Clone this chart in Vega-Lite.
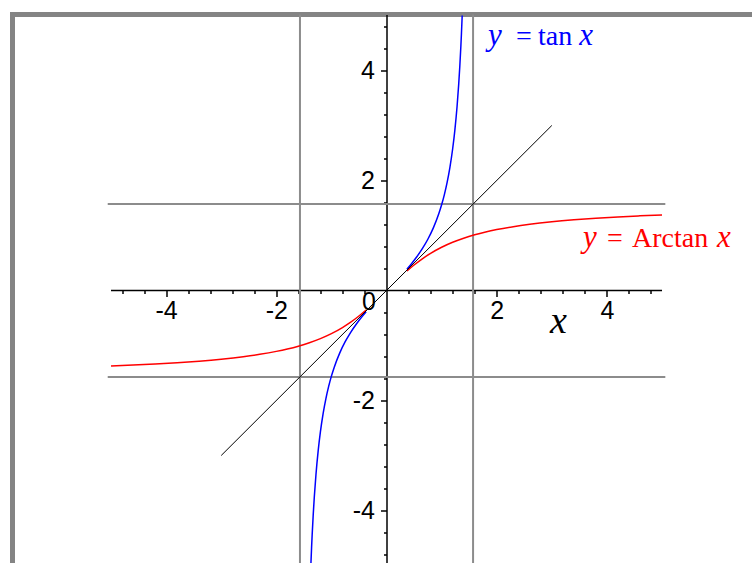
{
  "$schema": "https://vega.github.io/schema/vega-lite/v6.json",
  "width": 745,
  "height": 555,
  "autosize": {"type": "none"},
  "padding": {"left": 12.5, "top": 14.5, "right": -5.5, "bottom": -6.5},
  "background": "white",
  "config": {
    "view": {"stroke": "#848484", "strokeWidth": 5, "fill": "white"},
    "axis": {"labelOverlap": false, "grid": false, "title": null}
  },
  "resolve": {"axis": {"x": "independent", "y": "independent"}},
  "datasets": {
    "asymV": [{"x": -1.5708}, {"x": 1.5708}],
    "asymH": [
      {"x": -5.06, "x2": 5.06, "y": 1.5708},
      {"x": -5.06, "x2": 5.06, "y": -1.5708}
    ],
    "xAxisLine": [{"x": -5.0, "x2": 5.0, "y": 0}],
    "arctan": [
      {"branch": "neg", "x": -5.0, "y": -1.3734},
      {"branch": "neg", "x": -4.6, "y": -1.3567},
      {"branch": "neg", "x": -4.2, "y": -1.3371},
      {"branch": "neg", "x": -3.8, "y": -1.3135},
      {"branch": "neg", "x": -3.4, "y": -1.2847},
      {"branch": "neg", "x": -3.0, "y": -1.2490},
      {"branch": "neg", "x": -2.6, "y": -1.2036},
      {"branch": "neg", "x": -2.3, "y": -1.1607},
      {"branch": "neg", "x": -2.0, "y": -1.1071},
      {"branch": "neg", "x": -1.8, "y": -1.0637},
      {"branch": "neg", "x": -1.6, "y": -1.0122},
      {"branch": "neg", "x": -1.4, "y": -0.9505},
      {"branch": "neg", "x": -1.2, "y": -0.8761},
      {"branch": "neg", "x": -1.0, "y": -0.7854},
      {"branch": "neg", "x": -0.8, "y": -0.6747},
      {"branch": "neg", "x": -0.65, "y": -0.5764},
      {"branch": "neg", "x": -0.5, "y": -0.4636},
      {"branch": "neg", "x": -0.37, "y": -0.3546},
      {"branch": "pos", "x": 0.37, "y": 0.3546},
      {"branch": "pos", "x": 0.5, "y": 0.4636},
      {"branch": "pos", "x": 0.65, "y": 0.5764},
      {"branch": "pos", "x": 0.8, "y": 0.6747},
      {"branch": "pos", "x": 1.0, "y": 0.7854},
      {"branch": "pos", "x": 1.2, "y": 0.8761},
      {"branch": "pos", "x": 1.4, "y": 0.9505},
      {"branch": "pos", "x": 1.6, "y": 1.0122},
      {"branch": "pos", "x": 1.8, "y": 1.0637},
      {"branch": "pos", "x": 2.0, "y": 1.1071},
      {"branch": "pos", "x": 2.3, "y": 1.1607},
      {"branch": "pos", "x": 2.6, "y": 1.2036},
      {"branch": "pos", "x": 3.0, "y": 1.2490},
      {"branch": "pos", "x": 3.4, "y": 1.2847},
      {"branch": "pos", "x": 3.8, "y": 1.3135},
      {"branch": "pos", "x": 4.2, "y": 1.3371},
      {"branch": "pos", "x": 4.6, "y": 1.3567},
      {"branch": "pos", "x": 5.0, "y": 1.3734}
    ],
    "tan": [
      {"branch": "neg", "x": -1.3734, "y": -5.0},
      {"branch": "neg", "x": -1.36, "y": -4.6734},
      {"branch": "neg", "x": -1.35, "y": -4.4552},
      {"branch": "neg", "x": -1.33, "y": -4.0723},
      {"branch": "neg", "x": -1.31, "y": -3.7471},
      {"branch": "neg", "x": -1.28, "y": -3.3414},
      {"branch": "neg", "x": -1.24, "y": -2.9119},
      {"branch": "neg", "x": -1.2, "y": -2.5722},
      {"branch": "neg", "x": -1.15, "y": -2.2345},
      {"branch": "neg", "x": -1.1, "y": -1.9648},
      {"branch": "neg", "x": -1.05, "y": -1.7433},
      {"branch": "neg", "x": -1.0, "y": -1.5574},
      {"branch": "neg", "x": -0.95, "y": -1.3984},
      {"branch": "neg", "x": -0.85, "y": -1.1383},
      {"branch": "neg", "x": -0.75, "y": -0.9316},
      {"branch": "neg", "x": -0.65, "y": -0.7602},
      {"branch": "neg", "x": -0.55, "y": -0.6131},
      {"branch": "neg", "x": -0.45, "y": -0.4831},
      {"branch": "neg", "x": -0.37, "y": -0.3879},
      {"branch": "pos", "x": 0.37, "y": 0.3879},
      {"branch": "pos", "x": 0.45, "y": 0.4831},
      {"branch": "pos", "x": 0.55, "y": 0.6131},
      {"branch": "pos", "x": 0.65, "y": 0.7602},
      {"branch": "pos", "x": 0.75, "y": 0.9316},
      {"branch": "pos", "x": 0.85, "y": 1.1383},
      {"branch": "pos", "x": 0.95, "y": 1.3984},
      {"branch": "pos", "x": 1.0, "y": 1.5574},
      {"branch": "pos", "x": 1.05, "y": 1.7433},
      {"branch": "pos", "x": 1.1, "y": 1.9648},
      {"branch": "pos", "x": 1.15, "y": 2.2345},
      {"branch": "pos", "x": 1.2, "y": 2.5722},
      {"branch": "pos", "x": 1.24, "y": 2.9119},
      {"branch": "pos", "x": 1.28, "y": 3.3414},
      {"branch": "pos", "x": 1.31, "y": 3.7471},
      {"branch": "pos", "x": 1.33, "y": 4.0723},
      {"branch": "pos", "x": 1.35, "y": 4.4552},
      {"branch": "pos", "x": 1.36, "y": 4.6734},
      {"branch": "pos", "x": 1.3734, "y": 5.0}
    ],
    "diag": [{"x": -3, "y": -3}, {"x": 3, "y": 3}],
    "italicText": [
      {"grp": "tan", "t": "y", "x": 1.842, "y": 4.464},
      {"grp": "tan", "t": "x", "x": 3.5, "y": 4.464},
      {"grp": "arctan", "t": "y", "x": 3.566, "y": 0.791},
      {"grp": "arctan", "t": "x", "x": 5.998, "y": 0.791}
    ],
    "uprightText": [
      {"grp": "tan", "t": "=", "x": 2.35, "y": 4.464},
      {"grp": "tan", "t": "tan", "x": 2.75, "y": 4.464},
      {"grp": "arctan", "t": "=", "x": 4.0, "y": 0.791},
      {"grp": "arctan", "t": "Arctan", "x": 4.456, "y": 0.791}
    ],
    "axisTitle": [{"t": "x", "x": 2.967, "y": -0.78}],
    "origin": [{"t": "0", "x": -0.445, "y": -0.355}]
  },
  "layer": [
    {
      "data": {"name": "asymH"},
      "mark": {"type": "rule", "color": "#8c8c8c", "strokeWidth": 2},
      "encoding": {
        "x": {
          "field": "x", "type": "quantitative",
          "scale": {"domain": [-6.788, 6.733], "nice": false, "zero": false},
          "axis": {
            "orient": "bottom", "offset": -279, "domain": false,
            "values": [-4.8, -4.4, -3.6, -3.2, -2.8, -2.4, -1.6, -1.2, -0.8, -0.4, 0.4, 0.8, 1.2, 1.6, 2.4, 2.8, 3.2, 3.6, 4.4, 4.8],
            "ticks": true, "tickColor": "black", "tickWidth": 1.5, "tickSize": 3,
            "labels": false
          }
        },
        "x2": {"field": "x2"},
        "y": {
          "field": "y", "type": "quantitative",
          "scale": {"domain": [-5.073, 5.018], "nice": false, "zero": false},
          "axis": {
            "orient": "left", "offset": -374, "domain": true, "domainColor": "black", "domainWidth": 1.5,
            "values": [-4.8, -4.4, -3.6, -3.2, -2.8, -2.4, -1.6, -1.2, -0.8, -0.4, 0.4, 0.8, 1.2, 1.6, 2.4, 2.8, 3.2, 3.6, 4.4, 4.8],
            "ticks": true, "tickColor": "black", "tickWidth": 1.5, "tickSize": 3,
            "labels": false
          }
        }
      }
    },
    {
      "data": {"name": "xAxisLine"},
      "mark": {"type": "rule", "color": "black", "strokeWidth": 1.5},
      "encoding": {
        "x": {
          "field": "x", "type": "quantitative",
          "scale": {"domain": [-6.788, 6.733], "nice": false, "zero": false},
          "axis": {
            "orient": "bottom", "offset": -279, "domain": false,
            "values": [-4, -2, 2, 4],
            "ticks": true, "tickColor": "black", "tickWidth": 1.5, "tickSize": 6,
            "labelExpr": "datum.value < 0 ? '-' + abs(datum.value) : '' + datum.value",
            "labelFont": "Liberation Sans", "labelFontSize": 25, "labelColor": "black",
            "labelPadding": 2, "labelOverlap": false, "labelBound": false, "labelFlush": false
          }
        },
        "x2": {"field": "x2"},
        "y": {
          "field": "y", "type": "quantitative",
          "scale": {"domain": [-5.073, 5.018], "nice": false, "zero": false},
          "axis": {
            "orient": "left", "offset": -374, "domain": false,
            "values": [-4, -2, 2, 4],
            "ticks": true, "tickColor": "black", "tickWidth": 1.5, "tickSize": 6,
            "labelExpr": "datum.value < 0 ? '-' + abs(datum.value) : '' + datum.value",
            "labelFont": "Liberation Sans", "labelFontSize": 25, "labelColor": "black",
            "labelPadding": 6, "labelOverlap": false, "labelBound": false, "labelFlush": false
          }
        }
      }
    },
    {
      "data": {"name": "asymV"},
      "mark": {"type": "rule", "color": "#8c8c8c", "strokeWidth": 2},
      "encoding": {
        "x": {"field": "x", "type": "quantitative", "scale": {"domain": [-6.788, 6.733], "nice": false, "zero": false}, "axis": null}
      }
    },
    {
      "data": {"name": "arctan"},
      "mark": {"type": "line", "color": "#ff0000", "strokeWidth": 1.5, "interpolate": "monotone", "clip": true},
      "encoding": {
        "x": {"field": "x", "type": "quantitative", "scale": {"domain": [-6.788, 6.733], "nice": false, "zero": false}, "axis": null},
        "y": {"field": "y", "type": "quantitative", "scale": {"domain": [-5.073, 5.018], "nice": false, "zero": false}, "axis": null},
        "detail": {"field": "branch"}
      }
    },
    {
      "data": {"name": "tan"},
      "mark": {"type": "line", "color": "#0000ff", "strokeWidth": 1.5, "interpolate": "monotone", "clip": true},
      "encoding": {
        "x": {"field": "x", "type": "quantitative", "scale": {"domain": [-6.788, 6.733], "nice": false, "zero": false}, "axis": null},
        "y": {"field": "y", "type": "quantitative", "scale": {"domain": [-5.073, 5.018], "nice": false, "zero": false}, "axis": null},
        "detail": {"field": "branch"}
      }
    },
    {
      "data": {"name": "diag"},
      "mark": {"type": "line", "color": "black", "strokeWidth": 1},
      "encoding": {
        "x": {"field": "x", "type": "quantitative", "scale": {"domain": [-6.788, 6.733], "nice": false, "zero": false}, "axis": null},
        "y": {"field": "y", "type": "quantitative", "scale": {"domain": [-5.073, 5.018], "nice": false, "zero": false}, "axis": null}
      }
    },
    {
      "data": {"name": "italicText"},
      "mark": {"type": "text", "font": "Liberation Serif", "fontStyle": "italic", "fontSize": 31, "align": "left", "baseline": "alphabetic"},
      "encoding": {
        "x": {"field": "x", "type": "quantitative", "scale": {"domain": [-6.788, 6.733], "nice": false, "zero": false}, "axis": null},
        "y": {"field": "y", "type": "quantitative", "scale": {"domain": [-5.073, 5.018], "nice": false, "zero": false}, "axis": null},
        "text": {"field": "t"},
        "color": {"field": "grp", "type": "nominal", "scale": {"domain": ["tan", "arctan"], "range": ["#0000ff", "#ff0000"]}, "legend": null}
      }
    },
    {
      "data": {"name": "uprightText"},
      "mark": {"type": "text", "font": "Liberation Serif", "fontSize": 28, "align": "left", "baseline": "alphabetic"},
      "encoding": {
        "x": {"field": "x", "type": "quantitative", "scale": {"domain": [-6.788, 6.733], "nice": false, "zero": false}, "axis": null},
        "y": {"field": "y", "type": "quantitative", "scale": {"domain": [-5.073, 5.018], "nice": false, "zero": false}, "axis": null},
        "text": {"field": "t"},
        "color": {"field": "grp", "type": "nominal", "scale": {"domain": ["tan", "arctan"], "range": ["#0000ff", "#ff0000"]}, "legend": null}
      }
    },
    {
      "data": {"name": "axisTitle"},
      "mark": {"type": "text", "font": "Liberation Serif", "fontStyle": "italic", "fontSize": 38, "align": "left", "baseline": "alphabetic", "color": "black"},
      "encoding": {
        "x": {"field": "x", "type": "quantitative", "scale": {"domain": [-6.788, 6.733], "nice": false, "zero": false}, "axis": null},
        "y": {"field": "y", "type": "quantitative", "scale": {"domain": [-5.073, 5.018], "nice": false, "zero": false}, "axis": null},
        "text": {"field": "t"}
      }
    },
    {
      "data": {"name": "origin"},
      "mark": {"type": "text", "font": "Liberation Sans", "fontSize": 25, "align": "left", "baseline": "alphabetic", "color": "black"},
      "encoding": {
        "x": {"field": "x", "type": "quantitative", "scale": {"domain": [-6.788, 6.733], "nice": false, "zero": false}, "axis": null},
        "y": {"field": "y", "type": "quantitative", "scale": {"domain": [-5.073, 5.018], "nice": false, "zero": false}, "axis": null},
        "text": {"field": "t"}
      }
    }
  ]
}
